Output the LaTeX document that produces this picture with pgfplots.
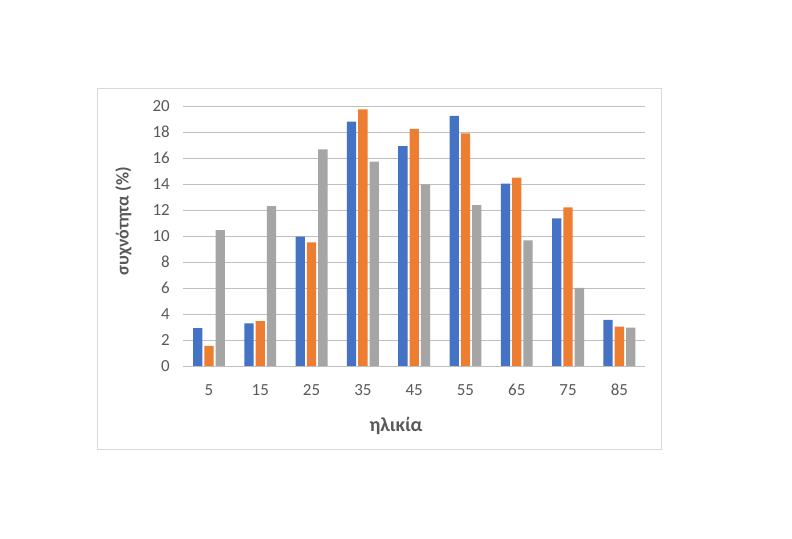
\documentclass[border=0pt]{standalone}
\usepackage{pgfplots}
\pgfplotsset{compat=1.18}
\usepackage{fontspec}
\setmainfont{Carlito}
\definecolor{cblue}{HTML}{4472C4}
\definecolor{corange}{HTML}{ED7D31}
\definecolor{cgray}{HTML}{A5A5A5}
\definecolor{txt}{HTML}{595959}
\definecolor{grid}{HTML}{D9D9D9}
\begin{document}
\begin{tikzpicture}[x=1bp,y=1bp]
\useasboundingbox[fill=white] (0,0) rectangle (792,539);
\draw[grid, line width=0.8bp] (97,90) rectangle (661,451);
\begin{axis}[
  at={(183.3bp,173bp)}, anchor=south west,
  scale only axis, width=461.7bp, height=260bp,
  ybar=2bp, bar width=9.3bp,
  ymin=0, ymax=20, ytick={0,2,...,20},
  xmin=-0.5, xmax=8.5, xtick={0,...,8},
  xticklabels={5,15,25,35,45,55,65,75,85},
  axis line style={draw=none},
  major tick length=0pt,
  xmajorgrids=false,
  ymajorgrids, grid style={grid, line width=0.8bp},
  /pgf/number format/assume math mode=true,
  tick label style={font=\fontsize{17}{20}\selectfont, text=txt},
  yticklabel style={xshift=-10bp},
  xticklabel style={anchor=base, yshift=-30bp},
  ylabel={συχνότητα (\%)}, xlabel={ηλικία},
  ylabel style={font=\fontsize{18}{21}\selectfont\bfseries, text=txt, at={(axis description cs:-0.1295,0.556)}, anchor=center},
  xlabel style={font=\fontsize{20}{23}\selectfont\bfseries, text=txt, at={(axis description cs:0.4607,-0.2308)}, anchor=center},
  clip=false,
]
\addplot[fill=cblue, draw=none] coordinates {(0,2.92) (1,3.28) (2,9.95) (3,18.8) (4,16.92) (5,19.23) (6,14.03) (7,11.36) (8,3.54)};
\addplot[fill=corange, draw=none] coordinates {(0,1.54) (1,3.46) (2,9.51) (3,19.74) (4,18.23) (5,17.9) (6,14.49) (7,12.2) (8,3.03)};
\addplot[fill=cgray, draw=none] coordinates {(0,10.46) (1,12.3) (2,16.67) (3,15.72) (4,13.97) (5,12.38) (6,9.67) (7,6.0) (8,2.95)};
\end{axis}
\end{tikzpicture}
\end{document}
